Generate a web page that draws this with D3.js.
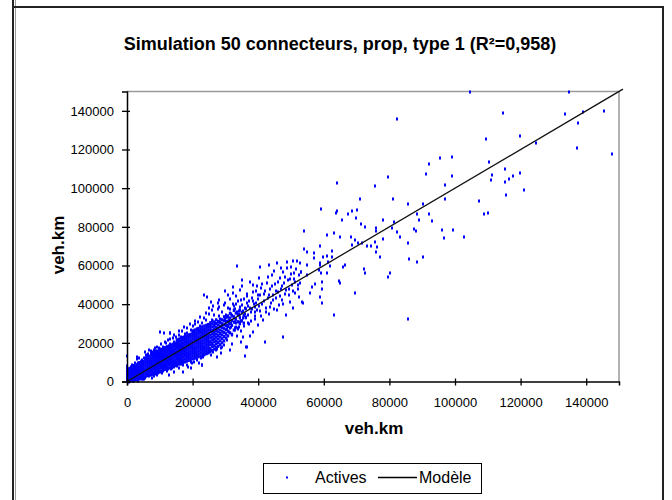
<!DOCTYPE html>
<html><head><meta charset="utf-8">
<script src="https://cdn.jsdelivr.net/npm/d3@7"></script>
<style>
body{margin:0;background:#fff}
svg text{font-family:Arial,"Liberation Sans",sans-serif;fill:#000}
</style>
</head><body>
<svg id="chart" width="672" height="500"></svg>
<script>
const titleText = "Simulation 50 connecteurs, prop, type 1 (R²=0,958)";
const xLabel = "veh.km";
const yLabel = "veh.km";
const legendLabels = ["Actives", "Modèle"];
const xTicks = [0,20000,40000,60000,80000,100000,120000,140000];
const yTicks = [0,20000,40000,60000,80000,100000,120000,140000];
const modelX = [0, 151200];
const modelY = [0, 151200];

// Actives, solid core of the cloud: each row = [observed veh.km, simulated veh.km values at that abscissa...]
const activesDenseCols = [
[200,500,1800,3100,4600,5900],
[800,200,1400,2700,4100,5300,6800],
[1400,900,2200,3500,4800,6200,7500],
[2000,300,1700,2900,4400,5700,7100,8300],
[2600,1100,2400,3800,5000,6600,7900],
[3200,700,2000,3400,4700,6100,7500,8900],
[3800,1500,2800,4200,5600,6900,8400,9700],
[4400,1300,2600,4000,5300,6700,8100,9400,10500],
[5000,2100,3500,4800,6200,7600,8900,10300],
[5600,2500,3900,5300,6600,8100,9500,10800,12000],
[6200,3000,4400,5700,7100,8500,9900,11300,12600],
[6800,3400,4800,6200,7500,8900,10300,11700,13100],
[7400,3900,5300,6600,8000,9400,10800,12100,13600],
[8000,3600,5000,6400,7800,9100,10600,12000,13300,14500],
[8600,4300,5700,7100,8400,9800,11200,12600,14000,15200],
[9200,4700,6100,7500,8900,10300,11700,13000,14400,15700],
[9800,5000,6500,7900,9200,10700,12000,13500,14800,16200],
[10400,5400,6900,8300,9600,11100,12500,13900,15300,16600],
[11000,5800,7200,8700,10100,11500,12900,14300,15700,17100],
[11600,6300,7700,9100,10500,11900,13300,14700,16100,17500],
[12200,6700,8100,9500,10900,12400,13800,15200,16600,18000],
[12800,7000,8500,9900,11300,12800,14200,15600,17000,18400],
[13400,7400,8900,10300,11800,13200,14600,16000,17500,18900],
[14000,7800,9300,10700,12100,13600,15000,16400,17900,19300],
[14600,8200,9700,11100,12600,14000,15400,16900,18300,19700],
[15200,8600,10000,11500,13000,14400,15800,17300,18700,20100,21400],
[15800,9000,10500,11900,13400,14800,16300,17700,19100,20600,21900],
[16400,9300,10800,12300,13800,15200,16600,18100,19500,21000,22400],
[17000,9800,11200,12700,14100,15600,17100,18500,19900,21400,22800],
[17600,10100,11600,13100,14500,16000,17400,18900,20300,21800,23200],
[18200,10500,12000,13500,14900,16400,17800,19300,20700,22200,23600],
[18800,10900,12400,13900,15300,16800,18200,19700,21100,22600,24000],
[19400,11300,12800,14300,15700,17200,18600,20100,21500,23000,24400],
[20000,11700,13200,14600,16100,17600,19000,20500,21900,23400,24800,26200],
[20600,12000,13500,15000,16500,17900,19400,20900,22300,23800,25200,26600],
[21200,12500,13900,15400,16900,18300,19800,21300,22700,24200,25600,27000],
[21800,12800,14300,15800,17300,18700,20200,21700,23100,24600,26000,27500],
[22400,13200,14700,16200,17600,19100,20600,22100,23500,25000,26400,27900],
[23000,13600,15100,16600,18000,19500,21000,22500,23900,25400,26800,28300],
[23600,14000,15500,17000,18400,19900,21400,22900,24300,25800,27200,28700],
[24200,14400,15900,17300,18800,20300,21800,23300,24700,26200,27700,29100],
[24800,14800,16300,17700,19200,20700,22200,23600,25100,26600,28100,29500],
[25400,15500,17000,19000,20600,22500,24000,25800,27400,29000,30400],
[26000,16000,18000,19600,21400,23000,24700,26300,28200,29900,31500],
[26600,16800,18500,20500,22100,23900,25500,27300,29000,30800],
[27200,17500,19400,21000,22900,24600,26400,28100,30000,31900],
[27800,18200,20100,22000,23800,25700,27500,29300,31100],
[28400,19000,21000,23000,24800,26600,28500,30400,32300],
[29000,20000,22100,24100,26000,28000,29900,31900],
[29600,21000,23200,25300,27300,29300,31400,33500],
[30200,22500,24600,26800,28900,31100,33200],
[30800,23600,26000,28500,31200,33900],
[31400,25200,27700,30100,32800,35300],
[32000,24400,29000,31600,34200],
[32600,26600,30700,33500,36800],
[33200,28100,32200,35400],
[33800,27500,30900,34600],
[34400,29900,33300,37000],
[35000,31400,35800],
[35600,30200,34100],
[36200,33000,37600]
];
// Actives: scattered points around the core and the tail, [observed, simulated]
const activesNearOrigin = [
[100,300],[200,1200],[300,600],[400,2100],[500,0],[600,1500],[700,3000],[800,800],[900,2400],[1000,200],
[1100,3700],[1200,1900],[1300,4400],[1400,1000],[1500,2800],[1600,5200],[1700,500],[1800,3500],[1900,6100],[2000,1600],
[2100,4300],[2200,2500],[2300,7000],[2400,900],[2500,5200],[2600,3300],[2700,7900],[2800,1800],[2900,4700],[3000,6300],
[3100,2600],[3200,8600],[3300,400],[3400,5600],[3500,3800],[3600,7300],[3700,1400],[3800,9400],[3900,4600],[4000,2900],
[4100,6800],[4200,10200],[4300,2100],[4400,8000],[4500,5400],[4600,3700],[4700,11300],[4800,7100],[4900,1200],[5000,9000],
[300,4200],[700,5600],[1200,7400],[1600,8300],[2500,9800],[3100,11500],[3600,12400],[3100,12800],[0,1000],[0,2500],
[0,4000],[0,5500],[0,7000],[0,13200],[150,8200],[500,6500],[1500,4000],[2200,5800],[2900,3200],[4000,5600],
[200,3300],[400,5000],[500,1100],[800,3900],[1000,5300],[1100,900],[1400,6700],[1700,2000],[1900,3900],[2000,8200],
[2200,1200],[2600,7000],[2800,5700],[3200,1100],[3400,4200],[3500,9500],[3800,2300],[4100,4100],[4400,6900],[4600,9800],
[4900,3400]
];
const activesBand = [
[5200,12400],[5500,2000],[5800,13500],[6100,3600],[6400,14300],[6600,2700],[7200,15600],[7400,3300],[8100,16300],[8500,3900],
[8600,14700],[9000,18000],[9500,15400],[9600,4500],[10000,16800],[5500,15200],[6800,16500],[7700,1800],[8600,17200],
[10400,19400],[10600,4400],[11000,17800],[11400,24900],[11600,20500],[12300,5500],[12600,21500],[13100,24900],[13200,19600],[13300,6400],
[13900,22400],[14200,7600],[14300,20300],[14800,23000],[15000,19200],[10100,25700],[12700,3600],[14200,4900],
[15300,21600],[15800,24200],[16000,6800],[16500,22900],[16900,26000],[17000,8600],[17600,24800],[18200,27500],[18700,7400],[18900,24000],
[19400,26500],[19500,10200],[20000,28700],[17000,5100],[19500,6800],[18200,24900],
[20500,10100],[20800,29800],[21600,31000],[21800,9500],[22300,28500],[22500,12300],[22800,8500],[22900,30400],[23400,33100],[23500,44700],
[23600,13600],[24100,31900],[24500,43800],[24900,35000],[25600,41000],[25800,31600],[26200,15300],[26600,34200],[27400,12800],[27600,37300],
[28200,42100],[28600,17100],[29000,35700],[29600,39600],[29800,32500],[25500,13900],[27900,33800],[28700,14900],[29500,19100],
[25100,37800],[26300,39200],[27300,16900],[20300,25400],[21300,27300],[22000,26200],[24700,29300],[26900,30300],[28400,31000],
[5200,1400],[5900,12400],[6500,13600],[7400,14600],[8000,15200],[8300,2800],[8800,16000],[9200,3500],[9800,17300],[10000,4900],
[10400,16400],[11000,5300],[11900,19800],[12400,6600],[13000,22000],[13600,7200],[14300,24000],[15200,7900],[15800,26300],[16600,8800],
[17500,28100],[18300,8300],[19300,29500],[19800,9400],[20600,31200],[21400,11000],[22300,33300],[23200,12600],[24200,35200],[25100,15100],
[26000,36900],[27000,16200],[28000,38600],[29000,17600],[30000,40800]
];
const activesSpread = [
[30200,34600],[30400,29000],[30600,21500],[30800,38200],[31000,31800],[31200,25600],[31400,42500],[31600,35100],[31800,28200],[32000,19300],
[32200,40100],[32400,45600],[32600,33100],[32800,26700],[33000,37500],[33200,30200],[33400,23400],[33600,59700],[33800,41600],[34000,34700],
[34200,28000],[34400,47400],[34600,38300],[34800,31500],[35000,49400],[35300,23200],[35500,36700],[35700,42800],[36000,13200],[36300,33600],
[36500,18000],[36700,45100],[37000,39300],[37300,29700],[37500,51600],[37500,23700],[37800,35800],[38100,43000],[38500,25700],[38500,50000],
[38700,40100],[39000,32200],[39300,46600],[39600,37200],[40000,42500],[40200,53400],[39800,29400],[31500,16500],[34900,20500],[33100,44200],
[40500,36400],[40800,48300],[41200,40200],[41500,31900],[41800,45100],[42100,20600],[42300,38000],[42600,51200],[42900,43300],[43200,35100],
[43500,47900],[43800,40600],[44100,55300],[44400,44800],[44700,37600],[45000,50400],[45400,43000],[45700,61100],[46000,46200],[46300,39400],
[46600,53600],[46900,48000],[47200,42200],[47500,56700],[47700,22900],[48000,50900],[48300,45400],[48500,34400],[48800,58800],[49100,52300],
[49400,47700],[49700,41300],[50000,55600],[50300,49800],[50700,62500],[51000,53100],[51300,45900],[51600,58200],[52000,50000],[52400,43900],
[52800,50800],[53000,56500],[53300,41300],[52600,61400],[50500,38000],[27800,40400],[13100,24900],[22800,8500],
[24300,14600],[36300,17700],
[30500,27300],[30900,33200],[31300,37600],[31700,30500],[32100,24300],[32500,36900],[32900,31000],[33300,40100],[33700,27400],[34100,36400],
[34500,30600],[34900,42300],[35300,33000],[35700,28800],[36100,38100],[36500,44200],[36900,34200],[37300,41400],[37700,31200],[38100,37400],
[38500,46500],[38900,35700],[39300,40700],[39700,49500],[40100,38900],[40500,44900],[40900,33700],[41300,50500],[41700,41700],[42100,47000],
[42500,35800],[42900,53900],[43300,44600],[43700,38500],[44100,49600],[44500,41900],[44900,57000],[45300,46600],[45700,36900],[46100,51700],
[46500,44300],[46900,58500],[47300,49600],[47700,40100],[48100,54200],[48500,47100],[48900,61800],[49300,44600],[49700,53000],[50100,59300],
[50500,46800],[50900,56200],[51300,51400],[51700,62300],[52100,47700],[52500,55100],[30700,44800],[32300,48700],[35100,52600],[40600,59300],
[43400,60200],[29900,46900],
[31100,29700],[31900,33900],[32700,38900],[33500,35800],[34300,32700],[35100,39600],[35900,35000],[36700,40700],[37500,37800],[38300,41800],
[39100,38500],[39900,44700],[30300,24800],[32900,27900],[34700,25900],[36900,30500],[38900,33900]
];
const activesOutliers = [
[104600,149500],[134900,149500],[82400,135900],[114600,139000],[133600,138300],[139000,139500],[145300,139700],[137600,133500],[137100,120700],[147800,117600],
[119700,126800],[109500,125200],[124700,123500],[110500,113300],[111400,106900],[111000,104200],[115100,109900],[115100,103300],[116400,104800],[117800,106400],
[119700,107800],[121100,98900],[115600,96400],[107400,93500],[108700,86600],[110100,87300],[102700,74500],[99000,116200],[95300,115400],[92100,112300],
[91200,107100],[99000,106200],[97100,101700],[97100,94200],[92200,86600],[93000,82800],[95900,78300],[99400,78300],[96700,74300],[90300,91800],
[88400,86600],[88900,83500],[87500,78800],[88000,78000],[85600,91800],[85600,71400],[86100,63200],[88400,61600],[90300,64500],[85600,32200],
[79700,105600],[81000,94400],[75500,101100],[64000,102600],[71000,94200],[59100,89000],[63700,87000],[64100,88300],[67300,86600],[68600,88100],
[70100,88700],[69800,84400],[65400,83500],[71400,81400],[72700,80000],[76000,79200],[76000,78000],[77900,83500],[77900,73800],[80800,79200],
[81500,82600],[82400,77400],[83300,74500],[54000,77800],[63100,76600],[60900,75700],[65000,74500],[68200,74500],[69500,73200],[68500,70600],
[70300,71400],[71700,71600],[73100,70100],[74300,70200],[75600,72300],[76200,69700],[75900,67100],[77000,64500],[72400,58000],[72700,55900],
[80200,56300],[79700,54200],[69600,45900],[63100,34400],[66000,59400],[66400,60500],[65000,51100],[64500,52000],[58700,70100],[59900,64500],
[61000,65100],[62400,67600],[62500,64500],[61400,61900],[62000,59800],[58900,61400],[57000,66300],[57000,64100],[58400,57600],[59100,56000],
[60900,56000],[59400,51600],[59500,47700],[58900,43800],[59400,40400],[56300,49000],[57200,50600],[55800,45600],[55000,60200],[54800,67100],
[55000,55000],[53600,40400],[54000,68700],[53100,56800],[58900,60200]
];

const svg = d3.select("#chart");
const W = 672, H = 500;
svg.append("rect").attr("width", W).attr("height", H).attr("fill", "#fff");

// outer frame
svg.append("line").attr("x1",13).attr("x2",13).attr("y1",0).attr("y2",H).attr("stroke","#222").attr("stroke-width",2);
svg.append("line").attr("x1",15.5).attr("x2",15.5).attr("y1",0).attr("y2",H).attr("stroke","#999").attr("stroke-width",1);
svg.append("line").attr("x1",12).attr("x2",664).attr("y1",7).attr("y2",7).attr("stroke","#222").attr("stroke-width",2);
svg.append("line").attr("x1",663).attr("x2",663).attr("y1",6).attr("y2",H).attr("stroke","#222").attr("stroke-width",2);

const x = d3.scaleLinear().domain([0,150000]).range([127,619]);
const y = d3.scaleLinear().domain([0,150000]).range([381.5,91.5]);

// plot border (top, right)
svg.append("line").attr("x1",x(0)).attr("x2",x(150000)).attr("y1",y(150000)).attr("y2",y(150000)).attr("stroke","#9a9a9a").attr("stroke-width",1.5);
svg.append("line").attr("x1",x(150000)).attr("x2",x(150000)).attr("y1",y(150000)).attr("y2",y(0)).attr("stroke","#9a9a9a").attr("stroke-width",1.5);

// dense core (sub-pixel positions so neighbouring markers merge as in the original)
const densePairs = activesDenseCols.flatMap(c => c.slice(1).map(v => [c[0], v]));
svg.append("g").selectAll("rect").data(densePairs).join("rect")
  .attr("x", d => x(d[0]) - 1.2)
  .attr("y", d => y(d[1]) - 1.6)
  .attr("width", 2.4).attr("height", 3.2)
  .attr("fill", "#0000ff");

// scattered points
const scattered = activesNearOrigin.concat(activesBand, activesSpread, activesOutliers);
svg.append("g").selectAll("rect").data(scattered).join("rect")
  .attr("x", d => Math.round(x(d[0])) - 1)
  .attr("y", d => Math.round(y(d[1])) - 1.5)
  .attr("width", 2).attr("height", 3)
  .attr("fill", "#0000ff");

// model line
const modelData = modelX.map((v,i) => [v, modelY[i]]);
svg.append("path").datum(modelData)
  .attr("d", d3.line().x(d => x(d[0])).y(d => y(d[1])))
  .attr("fill","none").attr("stroke","#111").attr("stroke-width",1.3);

// axes
const fmt = d3.format("d");
const gx = svg.append("g").attr("transform", `translate(0,${y(0)})`)
  .call(d3.axisBottom(x).tickValues(xTicks).tickFormat(fmt).tickSize(4).tickPadding(12));
const gy = svg.append("g").attr("transform", `translate(${x(0)},0)`)
  .call(d3.axisLeft(y).tickValues(yTicks).tickFormat(fmt).tickSize(5).tickPadding(8));
[gx, gy].forEach(g => {
  g.select(".domain").attr("stroke","#000").attr("stroke-width",1.5);
  g.selectAll(".tick line").attr("stroke","#000").attr("stroke-width",1.3);
  g.selectAll(".tick text").attr("font-size",13).attr("font-family","Arial, 'Liberation Sans', sans-serif").attr("fill","#000");
});
gx.selectAll(".tick line").attr("y1",-3);
gy.selectAll(".tick line").attr("x1",3);
gx.attr("font-size",13);
gy.attr("font-size",13);

// title
svg.append("text").attr("x",340).attr("y",50).attr("text-anchor","middle")
  .attr("font-size",18).attr("font-weight","bold").text(titleText);
// axis labels
svg.append("text").attr("x",374).attr("y",434).attr("text-anchor","middle")
  .attr("font-size",17).attr("font-weight","bold").text(xLabel);
svg.append("text").attr("transform","translate(64,245) rotate(-90)").attr("text-anchor","middle")
  .attr("font-size",17).attr("font-weight","bold").text(yLabel);

// legend
const lg = svg.append("g");
lg.append("rect").attr("x",263.5).attr("y",463.5).attr("width",218).attr("height",30)
  .attr("fill","#fff").attr("stroke","#000").attr("stroke-width",1);
lg.append("rect").attr("x",286).attr("y",476.5).attr("width",2).attr("height",2).attr("fill","#0000ff");
lg.append("text").attr("x",315).attr("y",483).attr("font-size",16).text(legendLabels[0]);
lg.append("line").attr("x1",378).attr("x2",417).attr("y1",477.5).attr("y2",477.5).attr("stroke","#000").attr("stroke-width",1.3);
lg.append("text").attr("x",419).attr("y",483).attr("font-size",16).text(legendLabels[1]);
</script>
</body></html>
